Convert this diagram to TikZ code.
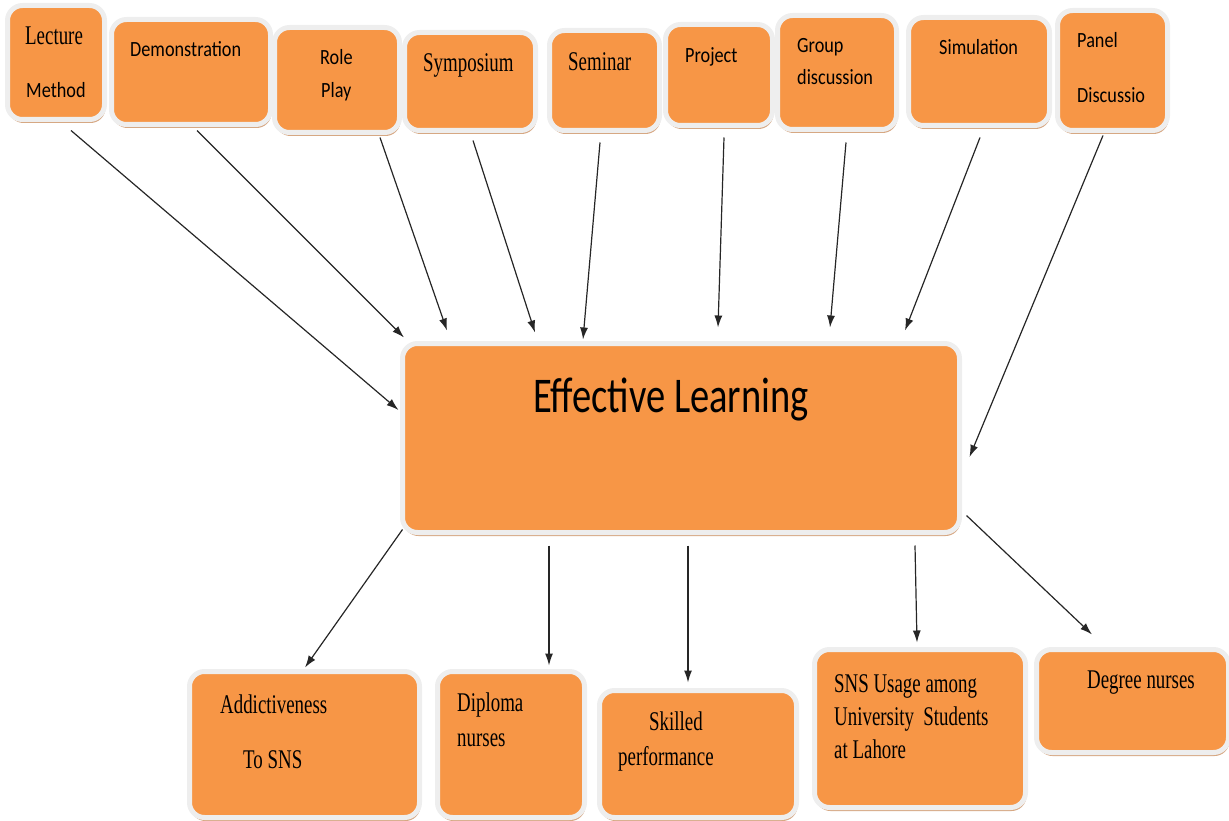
\documentclass[tikz,border=0pt]{standalone}
\usepackage{fontspec}
\newfontfamily\sanslbl[FakeStretch=0.84]{Carlito}
\newfontfamily\seriflbl[FakeStretch=0.7]{Liberation Serif}
\newfontfamily\headlbl[FakeStretch=0.77]{Carlito}
\usetikzlibrary{fit,shadows,arrows.meta}

\definecolor{boxorange}{RGB}{247,150,70}
\definecolor{boxrim}{RGB}{238,238,238}
\definecolor{boxshade}{RGB}{210,158,118}

\tikzset{
  box/.style={draw=boxrim, line width=5pt, fill=boxorange,
    rounded corners=15pt, inner sep=2.5pt,
    drop shadow={shadow xshift=1pt, shadow yshift=-3.5pt,
      fill=boxshade, opacity=.9}},
  sanstext/.style={font=\sanslbl\fontsize{21.7}{26}\selectfont,
    anchor=base west, inner sep=0pt},
  seriftext/.style={font=\seriflbl\fontsize{27}{32}\selectfont,
    anchor=base west, inner sep=0pt},
  link/.style={-{Latex[length=12pt,width=8pt]}, line width=1.2pt, draw=black!85}
}

\begin{document}
\begin{tikzpicture}[x=1pt, y=-1pt]
  \useasboundingbox (0,0) rectangle (1229,821);

  % teaching methods along the top
  \node[box, fit={(10,8) (102,117)}] (lecture) {};
  \node[box, fit={(114,22) (268,122)}] (demo) {};
  \node[box, fit={(277,30) (397,130)}] (roleplay) {};
  \node[box, fit={(407,35) (533,128)}] (symposium) {};
  \node[box, fit={(552,33) (657,128)}] (seminar) {};
  \node[box, fit={(668,27) (770,123)}] (project) {};
  \node[box, fit={(780,18) (894,127)}] (groupdisc) {};
  \node[box, fit={(911,20) (1047,123)}] (simulation) {};
  \node[box, fit={(1060,13) (1165,128)}] (panel) {};

  % centre
  \node[box, fit={(405,346) (957,530)}] (learning) {};

  % outcomes along the bottom
  \node[box, fit={(192,674) (417,815)}] (addict) {};
  \node[box, fit={(440,674) (582,815)}] (diploma) {};
  \node[box, fit={(602,693) (794,815)}] (skilled) {};
  \node[box, fit={(817,652) (1023,805)}] (snsusage) {};
  \node[box, fit={(1039,652) (1226,750)}] (degree) {};

  % labels
  \node[seriftext] (lecture-a) at (25,45) {Lecture};
  \node[sanstext] (lecture-b) at (26,98) {Method};
  \node[sanstext] (demo-a) at (130,57) {Demonstration};
  \node[sanstext] (roleplay-a) at (320,65) {Role};
  \node[sanstext] (roleplay-b) at (321,98) {Play};
  \node[seriftext] (symposium-a) at (423,72) {Symposium};
  \node[seriftext] (seminar-a) at (568,71) {Seminar};
  \node[sanstext] (project-a) at (685,63) {Project};
  \node[sanstext] (groupdisc-a) at (797,53) {Group};
  \node[sanstext] (groupdisc-b) at (797,85) {discussion};
  \node[sanstext] (simulation-a) at (939,55) {Simulation};
  \node[sanstext] (panel-a) at (1077,48) {Panel};
  \node[sanstext] (panel-b) at (1077,103) {Discussio};

  \node[anchor=base west, inner sep=0pt,
    font=\headlbl\fontsize{50}{60}\selectfont] (learning-a) at (533,412) {Effective Learning};

  \node[seriftext] (addict-a) at (220,713) {Addictiveness};
  \node[seriftext] (addict-b) at (243,768) {To SNS};
  \node[seriftext] (diploma-a) at (457,711) {Diploma};
  \node[seriftext] (diploma-b) at (457,746) {nurses};
  \node[seriftext] (skilled-a) at (649,730) {Skilled};
  \node[seriftext] (skilled-b) at (618,765) {performance};
  \node[seriftext] (snsusage-a) at (834,692) {SNS Usage among};
  \node[seriftext] (snsusage-b) at (834,725) {University\ \ Students};
  \node[seriftext] (snsusage-c) at (834,758) {at Lahore};
  \node[seriftext] (degree-a) at (1087,688) {Degree nurses};

  % methods -> effective learning
  \draw[link] ([shift={(15,8.5)}]lecture.south) -- ([shift={(-1.5,-28)}]learning.west);
  \draw[link] ([shift={(6,3.5)}]demo.south) -- ([shift={(-277,-3.5)}]learning.north);
  \draw[link] ([shift={(43,2.5)}]roleplay.south) -- ([shift={(-234,-10.5)}]learning.north);
  \draw[link] ([shift={(3,7.5)}]symposium.south) -- ([shift={(-146,-8.5)}]learning.north);
  \draw[link] ([shift={(-4.5,9.5)}]seminar.south) -- ([shift={(-98,-1.5)}]learning.north);
  \draw[link] ([shift={(5,9.5)}]project.south) -- ([shift={(37,-13.5)}]learning.north);
  \draw[link] ([shift={(9,10.5)}]groupdisc.south) -- ([shift={(149,-13.5)}]learning.north);
  \draw[link] ([shift={(1,9.5)}]simulation.south) -- ([shift={(224,-10.5)}]learning.north);
  \draw[link] ([shift={(-9.5,2.5)}]panel.south) -- ([shift={(7.5,19)}]learning.east);

  % effective learning -> outcomes
  \draw[link] ([shift={(2.5,-5.5)}]learning.south west) -- ([shift={(0.5,-1.5)}]addict.north);
  \draw[link] ([shift={(-132,10.5)}]learning.south) -- ([shift={(38,-3.5)}]diploma.north);
  \draw[link] ([shift={(7,10.5)}]learning.south) -- ([shift={(-10,-5.5)}]skilled.north);
  \draw[link] ([shift={(234,10.5)}]learning.south) -- ([shift={(-3,-4.5)}]snsusage.north);
  \draw[link] ([shift={(4.5,-19.5)}]learning.south east) -- ([shift={(-40.5,-12.5)}]degree.north);
\end{tikzpicture}
\end{document}
